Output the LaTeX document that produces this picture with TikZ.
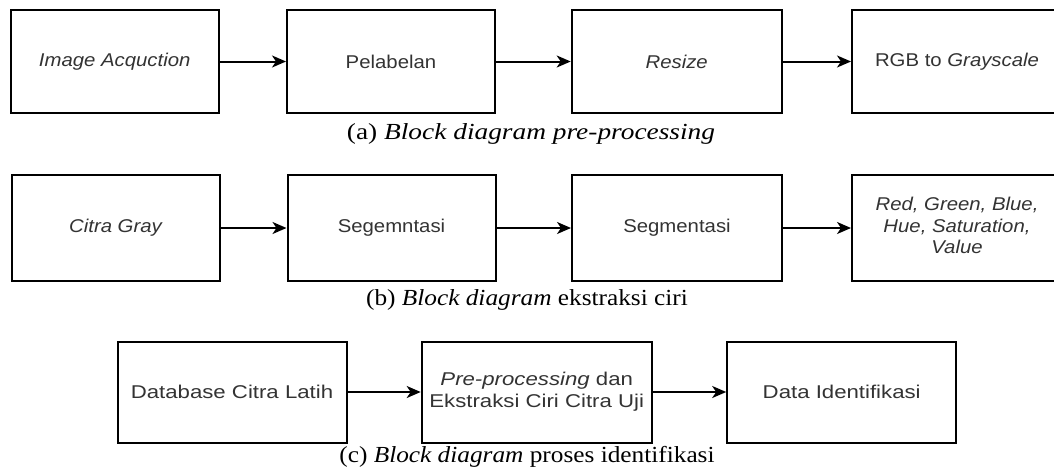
\documentclass[tikz,border=0pt]{standalone}
\usepackage{fontspec}
\setmainfont{Liberation Sans}
\newfontfamily\capfont{Liberation Serif}
\usetikzlibrary{arrows.meta}
\definecolor{txt}{gray}{0.2}
\newcommand\sx[2]{\scalebox{#1}[1]{#2}}
\tikzset{
  blk/.style={draw=black, line width=2pt, rectangle, inner sep=0pt, text=txt,
    font=\fontsize{18.5}{21.5}\selectfont, align=center},
  rowa/.style={blk, minimum width=208pt, minimum height=103pt},
  rowb/.style={blk, minimum width=208pt, minimum height=106pt},
  rowc/.style={blk, minimum width=229pt, minimum height=101pt},
  arr/.style={line width=2pt, -{Stealth[length=14pt,width=12pt,inset=4pt]}},
  capt/.style={anchor=base, inner sep=0pt, font=\capfont\fontsize{23}{27}\selectfont}
}
\begin{document}
\begin{tikzpicture}[x=1pt,y=-1pt]
\clip (0,0) rectangle (1054,474);
\fill[white] (0,0) rectangle (1054,474);
% row a
\node[rowa] (a1) at (114.7,61.5) {\sx{1.1}{\itshape Image Acquction}};
\node[rowa] (a2) at (391,61.5) {\sx{1.1}{Pelabelan}};
\node[rowa, minimum width=210pt] (a3) at (676.7,61.5) {\sx{1.1}{\itshape Resize}};
\node[rowa, minimum width=210pt] (a4) at (957,61.5) {\sx{1.1}{RGB to \textit{Grayscale}}};
\draw[arr] (a1) -- (a2);
\draw[arr] (a2) -- (a3);
\draw[arr] (a3) -- (a4);
\node[capt] (capa) at (531,139) {\sx{1.19}{(a) \textit{Block diagram pre-processing}}};
% row b
\node[rowb] (b1) at (115.5,228) {\sx{1.1}{\itshape Citra Gray}};
\node[rowb] (b2) at (391.5,228) {\sx{1.1}{Segemntasi}};
\node[rowb, minimum width=210pt] (b3) at (677,228) {\sx{1.1}{Segmentasi}};
\node[rowb, minimum width=210pt] (b4) at (957,228) {\sx{1.1}{\itshape\begin{tabular}{@{}c@{}}Red, Green, Blue,\\ Hue, Saturation,\\ Value\end{tabular}}};
\draw[arr] (b1) -- (b2);
\draw[arr] (b2) -- (b3);
\draw[arr] (b3) -- (b4);
\node[capt] (capb) at (527,305) {\sx{1.1}{(b) \textit{Block diagram} ekstraksi ciri}};
% row c
\node[rowc] (c1) at (232,392) {\sx{1.2}{Database Citra Latih}};
\node[rowc, minimum width=230pt] (c2) at (536.7,392) {\sx{1.2}{\begin{tabular}{@{}c@{}}\textit{Pre-processing} dan\\ Ekstraksi Ciri Citra Uji\end{tabular}}};
\node[rowc] (c3) at (841.7,392) {\sx{1.2}{Data Identifikasi}};
\draw[arr] (c1) -- (c2);
\draw[arr] (c2) -- (c3);
\node[capt] (capc) at (527,462) {\sx{1.1}{(c) \textit{Block diagram} proses identifikasi}};
\end{tikzpicture}
\end{document}
